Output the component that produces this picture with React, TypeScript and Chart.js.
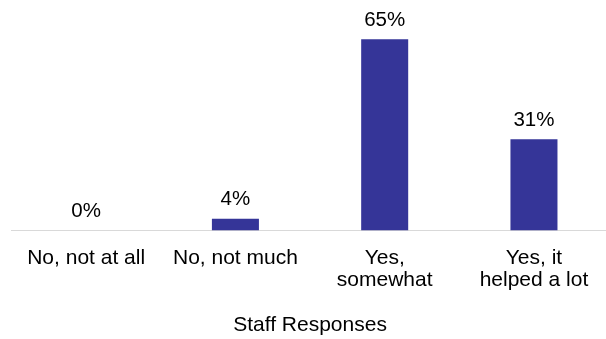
import React, { useEffect, useRef } from "react";
import { Chart, registerables } from "chart.js";

Chart.register(...registerables);

const categories: (string | string[])[] = [
  "No, not at all",
  "No, not much",
  ["Yes,", "somewhat"],
  ["Yes, it", "helped a lot"],
];
const values: number[] = [0, 4, 65, 31];
const valueLabels: string[] = ["0%", "4%", "65%", "31%"];
const axisTitle = "Staff Responses";

const FONT = "'Liberation Sans', Arial, sans-serif";

const dataLabelPlugin = {
  id: "dataLabels",
  afterDatasetsDraw(chart: any) {
    const { ctx } = chart;
    const meta = chart.getDatasetMeta(0);
    ctx.save();
    ctx.font = `20.5px ${FONT}`;
    ctx.fillStyle = "#000000";
    ctx.textAlign = "center";
    ctx.textBaseline = "alphabetic";
    meta.data.forEach((bar: any, i: number) => {
      ctx.fillText(valueLabels[i], bar.x, bar.y - 13.5);
    });
    ctx.restore();
  },
};

export default function App() {
  const ref = useRef<HTMLCanvasElement | null>(null);
  useEffect(() => {
    if (!ref.current) return;
    const chart = new Chart(ref.current, {
      type: "bar",
      data: {
        labels: categories,
        datasets: [
          {
            data: values,
            backgroundColor: "#353598",
            borderWidth: 0,
            categoryPercentage: 1,
            barPercentage: 0.315,
          },
        ],
      },
      options: {
        responsive: false,
        animation: false,
        layout: { padding: { left: 11.5, right: 3.4, top: 24.6, bottom: 0 } },
        plugins: {
          legend: { display: false },
          tooltip: { enabled: false },
        },
        scales: {
          x: {
            grid: { display: false, drawTicks: false },
            border: { display: true, color: "#d9d9d9", width: 1 },
            ticks: {
              color: "#000000",
              padding: 17,
              maxRotation: 0,
              autoSkip: false,
              font: { family: FONT, size: 21, lineHeight: 1.05 },
            },
            title: {
              display: true,
              text: axisTitle,
              color: "#000000",
              padding: { top: 0, bottom: 1 },
              font: { family: FONT, size: 21 },
            },
            afterFit: (scale: any) => {
              scale.height = 108.5;
            },
          },
          y: {
            display: false,
            min: 0,
            max: 70,
          },
        },
      },
      plugins: [dataLabelPlugin],
    });
    return () => chart.destroy();
  }, []);
  return (
    <div
      style={{
        position: "fixed",
        left: 0,
        top: 0,
        width: 606,
        height: 339,
        overflow: "hidden",
        background: "#ffffff",
      }}
    >
      <canvas ref={ref} width={612} height={339} />
    </div>
  );
}
